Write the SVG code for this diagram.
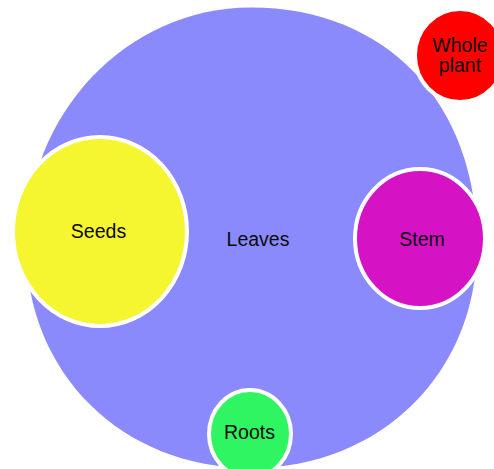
<svg xmlns="http://www.w3.org/2000/svg" width="494" height="469" viewBox="0 0 494 469">
<style>
.lbl{font-family:"Liberation Sans",Arial,sans-serif;font-size:19.5px;fill:#0a0a0a;text-anchor:middle}
.sub{stroke:#fff;stroke-width:4}
</style>
<rect width="494" height="469" fill="#fff"/>
<g id="leaves">
<path d="M26,245 C26,113.8 126.7,7.5 251,7.5 C386,7.5 477,102.5 477,245 C477,373.2 380.4,468 251,468 C121.6,468 26,373.2 26,245 Z" fill="#8a8afc"/>
<text class="lbl" x="258" y="246">Leaves</text>
</g>
<g id="whole-plant">
<ellipse class="sub" cx="460" cy="55.5" rx="45" ry="46.5" fill="#fe0000"/>
<text class="lbl" x="460" y="52">Whole</text>
<text class="lbl" x="460" y="72">plant</text>
</g>
<g id="seeds">
<ellipse class="sub" cx="100" cy="231.5" rx="87" ry="94.5" fill="#f5f530"/>
<text class="lbl" x="98.5" y="238">Seeds</text>
</g>
<g id="stem">
<ellipse class="sub" cx="420" cy="238.5" rx="65" ry="69.5" fill="#d513c5"/>
<text class="lbl" x="422" y="246">Stem</text>
</g>
<g id="roots">
<ellipse class="sub" cx="250" cy="434" rx="41" ry="44" fill="#30f562"/>
<text class="lbl" x="249.5" y="439">Roots</text>
</g>
<g id="connectors"></g>
</svg>
